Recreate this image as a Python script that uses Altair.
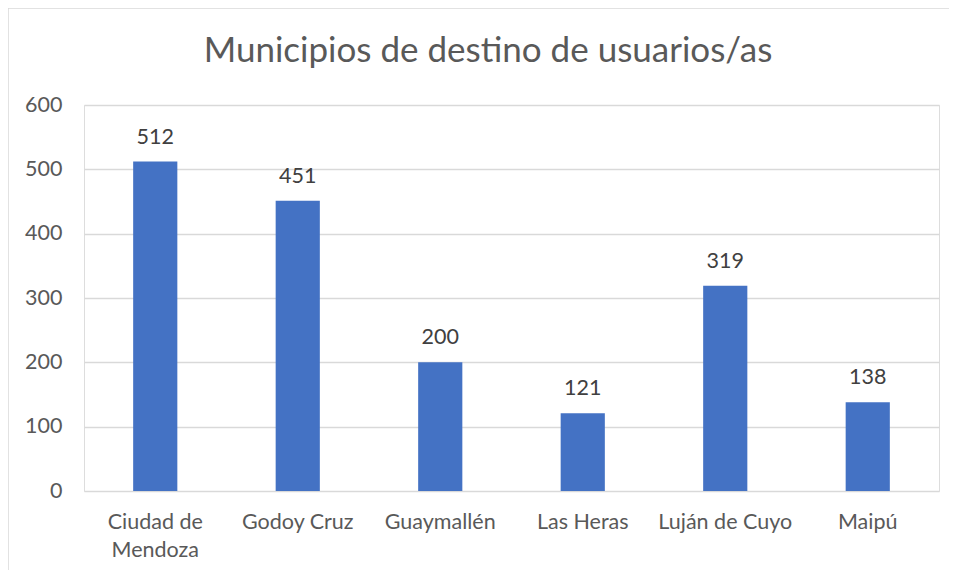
import altair as alt
import pandas as pd

categories = ["Ciudad de Mendoza", "Godoy Cruz", "Guaymallén", "Las Heras", "Luján de Cuyo", "Maipú"]
values = [512, 451, 200, 121, 319, 138]
y_ticks = [0, 100, 200, 300, 400, 500, 600]
title_text = "Municipios de destino de usuarios/as"

df = pd.DataFrame({"municipio": categories, "usuarios": values})

FONT = "Lato"
GREY = "#595959"
FS = 21.5

x_enc = alt.X(
    "municipio:N",
    sort=categories,
    scale=alt.Scale(paddingInner=0.69, paddingOuter=0.345),
    axis=alt.Axis(
        title=None, labelAngle=0, domain=False, ticks=False, labelPadding=20,
        labelFontSize=FS, labelColor=GREY, labelFont=FONT, labelLineHeight=28,
        labelBaseline="top",
        labelExpr="datum.label == 'Ciudad de Mendoza' ? ['Ciudad de', 'Mendoza'] : datum.label",
    ),
)
y_enc = alt.Y(
    "usuarios:Q",
    scale=alt.Scale(domain=[0, 600], nice=False),
    axis=alt.Axis(
        title=None, values=y_ticks, domain=False, ticks=False, labelPadding=22,
        labelFontSize=FS, labelColor=GREY, labelFont=FONT,
        gridColor="#D9D9D9", gridWidth=1.3,
    ),
)

bars = alt.Chart(df).mark_bar(color="#4472C4").encode(x=x_enc, y=y_enc)
labels = alt.Chart(df).mark_text(
    dy=-24, baseline="middle", fontSize=FS, font=FONT, color="#404040"
).encode(x=alt.X("municipio:N", sort=categories), y="usuarios:Q", text="usuarios:Q")

one = pd.DataFrame({"t": [title_text]})
border = alt.Chart(one).mark_rect(
    fill=None, stroke="#D9D9D9", strokeWidth=1.5
).encode(x=alt.value(-76), y=alt.value(-97), x2=alt.value(1500), y2=alt.value(1000))

title = alt.Chart(one).mark_text(
    fontSize=35, font=FONT, color=GREY, baseline="alphabetic", align="center"
).encode(x=alt.value(404), y=alt.value(-43), text="t:N")

chart = alt.layer(border, bars, labels, title).properties(
    width=855,
    height=386,
    padding={"left": 76, "top": 97, "right": 10, "bottom": 79},
    autosize=alt.AutoSizeParams(type="none"),
).configure_view(stroke=None).configure(background="white")

chart.save("out.html", embed_options={"renderer": "svg", "actions": False})
